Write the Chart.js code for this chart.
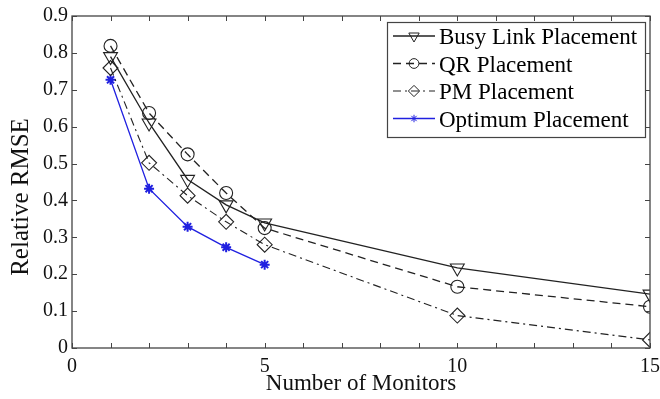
<!DOCTYPE html>
<html>
<head>
<meta charset="utf-8">
<script src="https://cdn.jsdelivr.net/npm/chart.js@4/dist/chart.umd.min.js"></script>
<style>
  html, body { margin: 0; padding: 0; background: #fff; }
  #wrap { width: 660px; height: 399px; }
</style>
</head>
<body>
<div id="wrap"><canvas id="rmseChart"></canvas></div>
<script>
const monitors = [1, 2, 3, 4, 5, 10, 15];
const optimumMonitors = [1, 2, 3, 4, 5];
const busyLink = [0.79, 0.61, 0.457, 0.388, 0.339, 0.217, 0.146];
const qrPlacement = [0.819, 0.637, 0.525, 0.42, 0.325, 0.166, 0.112];
const pmPlacement = [0.759, 0.502, 0.413, 0.342, 0.28, 0.088, 0.022];
const optimum = [0.727, 0.432, 0.329, 0.273, 0.226];
const xTicks = [0, 5, 10, 15];
const yTicks = [0, 0.1, 0.2, 0.3, 0.4, 0.5, 0.6, 0.7, 0.8, 0.9];

const serif = '"Liberation Serif", "DejaVu Serif", serif';

function pts(xs, ys) {
    return xs.map((x, i) => ({ x: x, y: ys[i] }));
}

// inward ticks on all four sides plus the frame
const frameTicks = {
    id: 'frameTicks',
    afterDatasetsDraw(chart) {
        const { ctx, chartArea: a, scales } = chart;
        ctx.save();
        ctx.strokeStyle = '#444';
        ctx.lineWidth = 1.3;
        ctx.strokeRect(a.left, a.top, a.right - a.left, a.bottom - a.top);
        ctx.lineWidth = 1;
        const len = 5;
        for (let v = 0; v <= 15; v++) {
            const px = Math.round(scales.x.getPixelForValue(v)) + 0.5;
            ctx.beginPath();
            ctx.moveTo(px, a.bottom); ctx.lineTo(px, a.bottom - len);
            ctx.moveTo(px, a.top); ctx.lineTo(px, a.top + len);
            ctx.stroke();
        }
        yTicks.forEach(v => {
            const py = Math.round(scales.y.getPixelForValue(v)) + 0.5;
            ctx.beginPath();
            ctx.moveTo(a.left, py); ctx.lineTo(a.left + len, py);
            ctx.moveTo(a.right, py); ctx.lineTo(a.right - len, py);
            ctx.stroke();
        });
        // y axis title, sitting a little below the middle of the axis
        ctx.translate(21, (a.top + a.bottom) / 2 + 15);
        ctx.rotate(-Math.PI / 2);
        ctx.font = '25px ' + serif;
        ctx.fillStyle = '#111';
        ctx.textAlign = 'center';
        ctx.textBaseline = 'middle';
        ctx.fillText('Relative RMSE', 0, 0);
        ctx.restore();
    }
};

// boxed legend in the upper right corner of the plot
const boxLegend = {
    id: 'boxLegend',
    afterDraw(chart) {
        const { ctx, chartArea: a } = chart;
        const left = a.right - 263, top = a.top + 6, w = 258, rowH = 27.5;
        const h = rowH * chart.data.datasets.length + 5;
        ctx.save();
        ctx.fillStyle = '#fff';
        ctx.fillRect(left, top, w, h);
        ctx.strokeStyle = '#444';
        ctx.lineWidth = 1.2;
        ctx.strokeRect(left + 0.5, top + 0.5, w, h);
        ctx.font = '23px ' + serif;
        ctx.textBaseline = 'middle';
        chart.data.datasets.forEach((ds, i) => {
            const cy = top + 14 + i * rowH;
            ctx.strokeStyle = ds.borderColor;
            ctx.lineWidth = ds.borderWidth;
            ctx.setLineDash(ds.borderDash || []);
            ctx.beginPath();
            ctx.moveTo(left + 6, cy); ctx.lineTo(left + 48, cy);
            ctx.stroke();
            ctx.setLineDash([]);
            ctx.fillStyle = 'rgba(255,255,255,0)';
            ctx.lineWidth = 1;
            Chart.helpers.drawPoint(ctx, {
                pointStyle: ds.pointStyle,
                rotation: ds.pointRotation || 0,
                radius: ds.pointRadius * 0.75,
                borderWidth: 1
            }, left + 27, cy);
            ctx.fillStyle = '#000';
            ctx.fillText(ds.label, left + 52, cy + 2);
        });
        ctx.restore();
    }
};

const common = {
    borderWidth: 1.3,
    backgroundColor: 'rgba(255,255,255,0)',
    pointBackgroundColor: 'rgba(255,255,255,0)',
    pointBorderWidth: 1.1,
    tension: 0
};

new Chart(document.getElementById('rmseChart').getContext('2d'), {
    type: 'line',
    data: {
        datasets: [{
            ...common,
            label: 'Busy Link Placement',
            data: pts(monitors, busyLink),
            borderColor: '#222',
            pointBorderColor: '#222',
            pointStyle: 'triangle',
            pointRotation: 180,
            pointRadius: 8
        }, {
            ...common,
            label: 'QR Placement',
            data: pts(monitors, qrPlacement),
            borderColor: '#222',
            pointBorderColor: '#222',
            borderDash: [8, 5],
            pointStyle: 'circle',
            pointRadius: 6.5
        }, {
            ...common,
            label: 'PM Placement',
            data: pts(monitors, pmPlacement),
            borderColor: '#222',
            pointBorderColor: '#222',
            borderWidth: 1.1,
            borderDash: [8, 4, 2, 4],
            pointStyle: 'rectRot',
            pointRadius: 7.5
        }, {
            ...common,
            label: 'Optimum Placement',
            data: pts(optimumMonitors, optimum),
            borderColor: '#2020e0',
            pointBorderColor: '#2020e0',
            pointStyle: 'star',
            pointRadius: 5,
            pointBorderWidth: 2
        }]
    },
    options: {
        responsive: true,
        maintainAspectRatio: false,
        animation: false,
        layout: { autoPadding: false, padding: { left: 0, right: 10, top: 16, bottom: 0 } },
        plugins: {
            legend: { display: false },
            tooltip: { enabled: false }
        },
        scales: {
            x: {
                type: 'linear',
                min: 0,
                max: 15,
                afterBuildTicks: s => { s.ticks = xTicks.map(v => ({ value: v })); },
                grid: { display: false, drawTicks: false },
                border: { display: false },
                ticks: { color: '#111', font: { family: serif, size: 20 }, padding: 7, maxRotation: 0 },
                title: { display: true, text: 'Number of Monitors', color: '#111', font: { family: serif, size: 23 }, padding: { top: 0, bottom: 1 } },
                afterFit: s => { s.height = 51; s.paddingLeft = 0; s.paddingRight = 0; }
            },
            y: {
                min: 0,
                max: 0.9,
                afterBuildTicks: s => { s.ticks = yTicks.map(v => ({ value: v })); },
                grid: { display: false, drawTicks: false },
                border: { display: false },
                ticks: {
                    color: '#111',
                    font: { family: serif, size: 20 },
                    padding: 4,
                    callback: v => String(Math.round(v * 10) / 10)
                },
                afterFit: s => { s.width = 72; s.paddingTop = 0; s.paddingBottom = 0; }
            }
        }
    },
    plugins: [frameTicks, boxLegend]
});
</script>
</body>
</html>
